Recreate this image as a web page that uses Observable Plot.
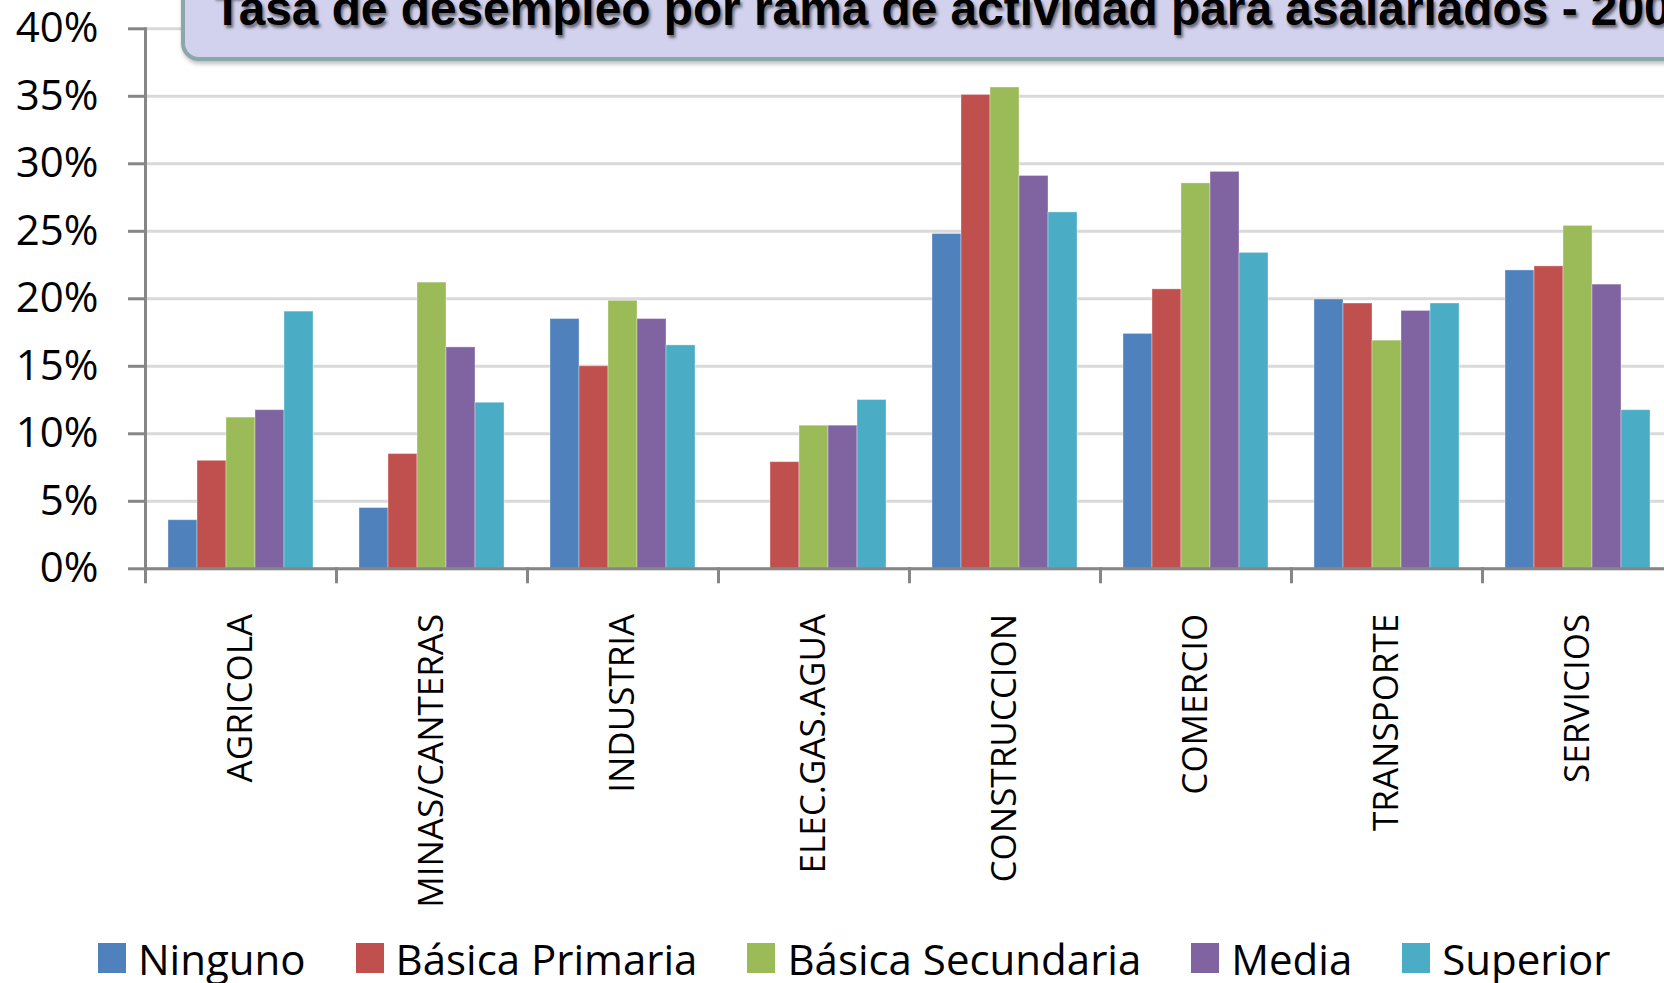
<!DOCTYPE html>
<html><head><meta charset="utf-8">
<script src="https://cdn.jsdelivr.net/npm/d3@7"></script>
<script src="https://cdn.jsdelivr.net/npm/@observablehq/plot@0.6"></script>
<style>
html,body{margin:0;padding:0;background:#fff;overflow:hidden;width:1664px;height:983px;}
#wrap{position:relative;width:1664px;height:983px;overflow:hidden;}
#chart{position:absolute;left:0;top:0;width:1673px;}
#chart svg{max-width:none !important;}
#titleBox{position:absolute;left:181px;top:-40px;width:1700px;height:101px;box-sizing:border-box;background:#d2d2ee;border:4px solid #8ca7aa;border-radius:18px;box-shadow:1px 3px 4px rgba(0,0,0,0.25);}
#titleText{position:absolute;left:213px;top:-15px;font:bold 47.8px "Liberation Sans", Arial, sans-serif;line-height:47px;white-space:nowrap;color:#000;text-shadow:2px 3px 3px rgba(0,0,0,0.5);}
#legend{position:absolute;left:98px;top:938px;display:flex;font-family:"Open Sans",sans-serif;font-size:42px;line-height:41px;color:#000;}
.item{display:flex;align-items:flex-start;margin-right:50px;white-space:nowrap;}
.sw{width:28px;height:30px;margin-top:5px;margin-right:12px;}
</style>
</head><body>
<div id="wrap">
  <div id="chart"></div>
  <div id="titleBox"></div>
  <div id="titleText"></div>
  <div id="legend"></div>
</div>
<script>
const title = "Tasa de desempleo por rama de actividad para asalariados - 200";
const categories = ["AGRICOLA","MINAS/CANTERAS","INDUSTRIA","ELEC.GAS.AGUA","CONSTRUCCION","COMERCIO","TRANSPORTE","SERVICIOS"];
const series = ["Ninguno","Básica Primaria","Básica Secundaria","Media","Superior"];
const colors = ["#4f81bd","#c0504d","#9bbb59","#8064a2","#4bacc6"];
const ninguno    = [3.6, 4.5, 18.5, null, 24.8, 17.4, 19.95, 22.1];
const primaria   = [8.0, 8.5, 15.0, 7.9, 35.1, 20.7, 19.65, 22.4];
const secundaria = [11.2, 21.2, 19.85, 10.6, 35.65, 28.55, 16.9, 25.4];
const media      = [11.75, 16.4, 18.5, 10.6, 29.1, 29.4, 19.1, 21.05];
const superior   = [19.05, 12.3, 16.55, 12.5, 26.4, 23.4, 19.65, 11.75];
const yTicks = [0, 5, 10, 15, 20, 25, 30, 35, 40];

const seriesArrays = [ninguno, primaria, secundaria, media, superior];
const rows = [];
categories.forEach((c, i) => series.forEach((s, j) => {
  const v = seriesArrays[j][i];
  if (v != null) rows.push({category: c, series: s, value: v});
}));

const H = 930;
const chart = Plot.plot({
  width: 1673, height: H,
  marginLeft: 145, marginRight: 0, marginTop: 28.3, marginBottom: H - 568.3,
  style: {fontFamily: "'Open Sans', sans-serif", background: "transparent", overflow: "visible", maxWidth: "none"},
  fx: {domain: categories, padding: 0, axis: null},
  x: {domain: series, paddingInner: 0, paddingOuter: 0.78, axis: null},
  y: {domain: [0, 40], axis: null},
  color: {domain: series, range: colors},
  marks: [
    Plot.gridY(yTicks, {stroke: "#d9d9d9", strokeOpacity: 1, strokeWidth: 3}),
    Plot.barY(rows, {fx: "category", x: "series", y: "value", fill: "series", stroke: "#fff", strokeOpacity: 0.35, strokeWidth: 1}),
    Plot.ruleY([0], {stroke: "#868686", strokeWidth: 3}),
    Plot.frame({anchor: "left", facetAnchor: "left", stroke: "#868686", strokeWidth: 3}),
    Plot.frame({anchor: "left", insetTop: 540, insetBottom: -13, stroke: "#868686", strokeWidth: 3}),
    Plot.axisY({ticks: yTicks, tickFormat: d => d + "%", tickSize: 17, tickPadding: 30, stroke: "#868686", strokeWidth: 3, fill: "#000", fontSize: 42, label: null}),
    Plot.text(categories, {fx: d => d, text: d => d, frameAnchor: "bottom", rotate: -90, textAnchor: "end", lineAnchor: "middle", dy: 45, fontSize: 35, fill: "#000"})
  ]
});
document.getElementById("chart").appendChild(chart);
document.getElementById("titleText").textContent = title;

const legend = document.getElementById("legend");
series.forEach((s, i) => {
  const item = document.createElement("div");
  item.className = "item";
  const sw = document.createElement("div");
  sw.className = "sw";
  sw.style.background = colors[i];
  const t = document.createElement("span");
  t.textContent = s;
  item.appendChild(sw); item.appendChild(t);
  legend.appendChild(item);
});
</script>
</body></html>
